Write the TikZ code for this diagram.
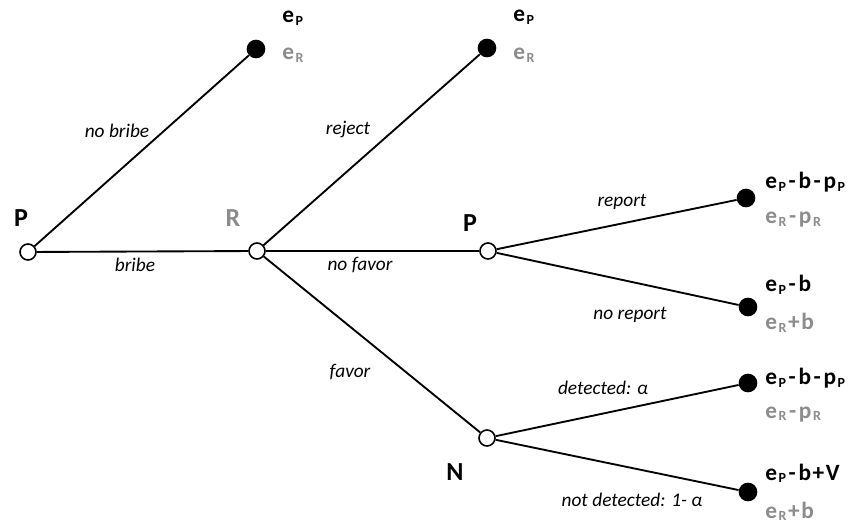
\documentclass[tikz,border=0pt]{standalone}
\usepackage{fontspec}
\setmainfont{Carlito}
\definecolor{pgray}{HTML}{8C8C8C}
\newcommand{\sbx}[1]{\kern1.2pt\raisebox{-1.6pt}{\fontsize{10.5}{11}\selectfont #1}}
\newcommand{\mn}{\kern2pt-\kern2pt}
\newcommand{\pl}{\kern1.2pt+\kern1.2pt}
\begin{document}
\begin{tikzpicture}[x=0.75pt,y=-0.75pt,
  opennode/.style={circle, draw, line width=1.2pt, fill=white, minimum size=12pt, inner sep=0pt},
  leaf/.style={circle, fill=black, minimum size=14pt, inner sep=0pt},
  edge/.style={line width=1.4pt},
  elab/.style={font=\fontsize{14.5}{16}\selectfont\itshape, inner sep=0pt},
  pay/.style={font=\fontsize{17.5}{19}\selectfont\bfseries, anchor=base west, inner sep=0pt},
  gpay/.style={pay, text=pgray},
  player/.style={font=\fontsize{19.5}{22}\selectfont\bfseries, inner sep=0pt}]
\useasboundingbox (0,0) rectangle (852,523);
% decision nodes
\node[opennode] (p0) at (28,252) {};
\node[opennode] (r) at (257,251) {};
\node[opennode] (p2) at (488,251) {};
\node[opennode] (n) at (487,438) {};
% terminal nodes
\node[leaf] (t1) at (256,49) {};
\node[leaf] (t2) at (487,48) {};
\node[leaf] (t3) at (746,198) {};
\node[leaf] (t4) at (748,307) {};
\node[leaf] (t5) at (748,383) {};
\node[leaf] (t6) at (748,492) {};
% edges
\draw[edge] (p0) -- (t1);
\draw[edge] (p0) -- (r);
\draw[edge] (r) -- (t2);
\draw[edge] (r) -- (p2);
\draw[edge] (r) -- (n);
\draw[edge] (p2) -- (t3);
\draw[edge] (p2) -- (t4);
\draw[edge] (n) -- (t5);
\draw[edge] (n) -- (t6);
% player labels
\node[player] (lp0) at (21,218) {P};
\node[player, text=pgray] (lr) at (233,218) {R};
\node[player] (lp2) at (470,223) {P};
\node[player] (ln) at (455,472) {N};
% edge labels
\node[elab] (l1) at (117,131) {no bribe};
\node[elab] (l2) at (135,265) {bribe};
\node[elab] (l3) at (348,130) {reject};
\node[elab] (l4) at (360,265) {no favor};
\node[elab] (l5) at (350,372) {favor};
\node[elab] (l6) at (622,202) {report};
\node[elab] (l7) at (630,315) {no report};
\node[elab] (l8) at (603,388) {detected: α};
\node[elab] (l9) at (632,500) {not detected: 1- α};
% payoffs
\node[pay] (a1) at (282,23) {e\sbx{P}};
\node[gpay] (b1) at (282,60) {e\sbx{R}};
\node[pay] (a2) at (513,22) {e\sbx{P}};
\node[gpay] (b2) at (513,60) {e\sbx{R}};
\node[pay] (a3) at (765,189) {e\sbx{P}\mn b\mn p\sbx{P}};
\node[gpay] (b3) at (765,224) {e\sbx{R}\mn p\sbx{R}};
\node[pay] (a4) at (765,292) {e\sbx{P}\mn b};
\node[gpay] (b4) at (765,330) {e\sbx{R}\pl b};
\node[pay] (a5) at (765,385) {e\sbx{P}\mn b\mn p\sbx{P}};
\node[gpay] (b5) at (765,418) {e\sbx{R}\mn p\sbx{R}};
\node[pay] (a6) at (765,480) {e\sbx{P}\mn b\pl V};
\node[gpay] (b6) at (765,518) {e\sbx{R}\pl b};
\end{tikzpicture}
\end{document}
